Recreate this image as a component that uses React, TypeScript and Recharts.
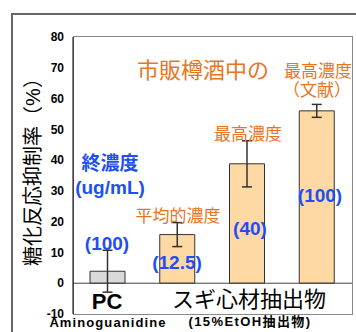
import React from "react";
import {
  BarChart,
  Bar,
  XAxis,
  YAxis,
  Cell,
  ErrorBar,
  ReferenceLine,
} from "recharts";

// bar values (inhibition rate, %)
const categories = ["PC", "平均的濃度", "最高濃度", "最高濃度（文献）"];
const rates = [3.9, 15.8, 38.8, 56.0];
const errors = [6.8, 3.9, 7.5, 2.1];
const concLabels = ["(100)", "(12.5)", "(40)", "(100)"];
const barColors = ["#d9d9d9", "#ffd9a3", "#ffd9a3", "#ffd9a3"];
const yTicks = [-10, 0, 10, 20, 30, 40, 50, 60, 70, 80];

const data = categories.map((name, i) => ({
  name,
  rate: rates[i],
  err: errors[i],
}));

const FONT = '"Liberation Sans", Arial, "Noto Sans CJK JP", sans-serif';
const ORANGE = "#e8751f";
const BLUE = "#1c4ff5";

type TextProps = {
  x: number;
  y: number;
  size: number;
  color?: string;
  bold?: boolean;
  spacing?: number;
  children: React.ReactNode;
};

// centred text placed over the chart
function T({ x, y, size, color = "#000", bold = false, spacing = 0, children }: TextProps) {
  return (
    <div
      style={{
        position: "absolute",
        left: x,
        top: y,
        transform: "translate(-50%, -50%)",
        fontSize: size,
        fontWeight: bold ? 700 : 400,
        letterSpacing: spacing,
        color,
        whiteSpace: "nowrap",
        lineHeight: 1,
        fontFamily: FONT,
      }}
    >
      {children}
    </div>
  );
}

export default function App() {
  return (
    <div
      style={{
        position: "absolute",
        left: 0,
        top: 0,
        width: 356,
        height: 332,
        overflow: "hidden",
        background: "#fff",
        fontFamily: FONT,
      }}
    >
      {/* outer frame of the slide */}
      <div
        style={{
          position: "absolute",
          left: 11,
          top: 13,
          width: 400,
          height: 400,
          borderLeft: "2px solid #666",
          borderTop: "2px solid #666",
        }}
      />
      {/* plot box */}
      <div
        style={{
          position: "absolute",
          left: 73,
          top: 36,
          width: 278,
          height: 277,
          border: "1px solid #888",
        }}
      />

      <div style={{ position: "absolute", left: 0, top: 0 }}>
        <BarChart
          width={356}
          height={332}
          data={data}
          margin={{ top: 37, right: 4, bottom: 0, left: 0 }}
          barSize={35}
        >
          <XAxis dataKey="name" height={18} tick={false} axisLine={false} tickLine={false} />
          <YAxis
            width={73}
            domain={[-10, 80]}
            ticks={yTicks}
            tickLine={false}
            axisLine={{ stroke: "#000" }}
            tick={{ fill: "#000", fontSize: 12, fontWeight: 700 }}
            tickMargin={3}
          />
          <ReferenceLine y={0} stroke="#444" />
          <Bar dataKey="rate" fill="#ffd9a3" stroke="#333" isAnimationActive={false}>
            {data.map((d, i) => (
              <Cell key={d.name + i} fill={barColors[i]} />
            ))}
            <ErrorBar dataKey="err" width={5} stroke="#333" />
          </Bar>
        </BarChart>
      </div>

      {/* y axis title */}
      <div
        style={{
          position: "absolute",
          left: 33,
          top: 167,
          transform: "translate(-50%, -50%) rotate(-90deg)",
          fontSize: 20,
          whiteSpace: "nowrap",
          lineHeight: 1,
          fontFamily: FONT,
        }}
      >
        糖化反応抑制率（%）
      </div>

      {/* category labels */}
      <T x={107} y={302} size={22} bold>PC</T>
      <T x={249} y={300} size={22}>スギ心材抽出物</T>
      <T x={108} y={322} size={13} bold spacing={1.1}>Aminoguanidine</T>
      <T x={250} y={321} size={13} bold spacing={1.4}>(15%EtOH抽出物)</T>

      {/* orange notes */}
      <T x={203} y={71} size={22} color={ORANGE}>市販樽酒中の</T>
      <T x={318} y={71} size={17} color={ORANGE}>最高濃度</T>
      <T x={317} y={90} size={17} color={ORANGE}>（文献）</T>
      <T x={248} y={134} size={17} color={ORANGE}>最高濃度</T>
      <T x={178} y={216} size={17} color={ORANGE}>平均的濃度</T>

      {/* blue concentration notes */}
      <T x={110} y={163} size={19} color={BLUE} bold>終濃度</T>
      <T x={110} y={187} size={19} color={BLUE} bold>(ug/mL)</T>
      <T x={107} y={243} size={19} color={BLUE} bold>{concLabels[0]}</T>
      <T x={177} y={262} size={19} color={BLUE} bold>{concLabels[1]}</T>
      <T x={250} y={228} size={19} color={BLUE} bold>{concLabels[2]}</T>
      <T x={320} y={195} size={19} color={BLUE} bold>{concLabels[3]}</T>
    </div>
  );
}
